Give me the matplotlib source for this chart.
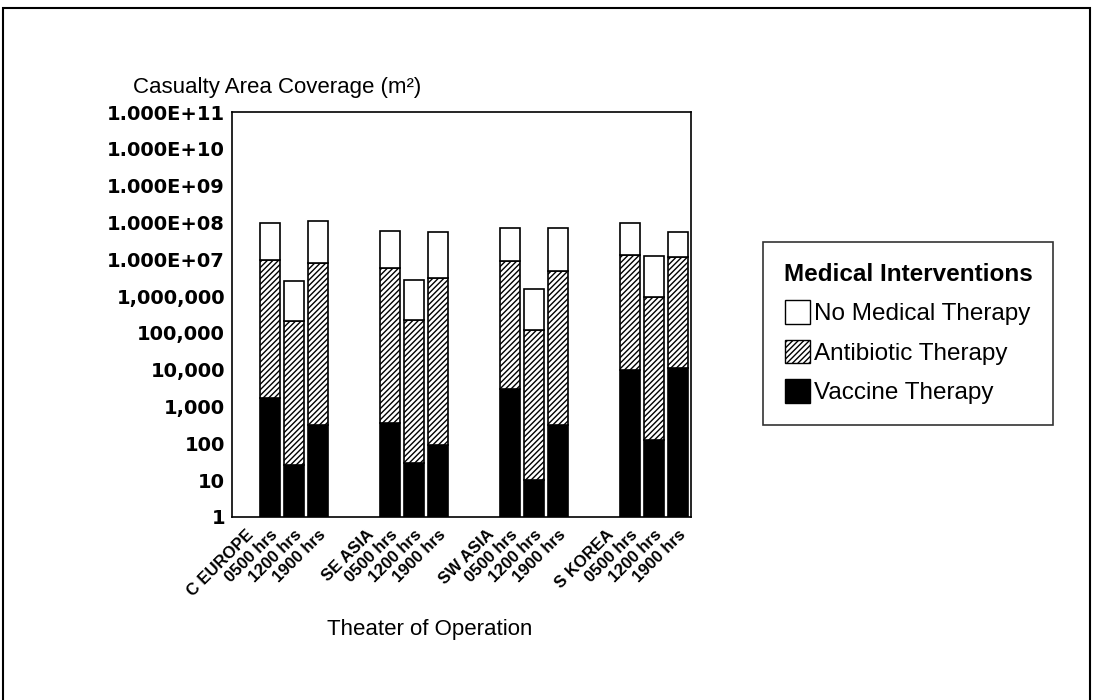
import matplotlib.pyplot as plt
import matplotlib.patches as mpatches
import numpy as np

plt.rcParams['font.family'] = ['Liberation Sans', 'DejaVu Sans']
plt.rcParams['hatch.linewidth'] = 1.0

# each theater: a label slot, then three times of day, then a gap
theaters = ['C EUROPE', 'SE ASIA', 'SW ASIA', 'S KOREA']
times = ['0500 hrs', '1200 hrs', '1900 hrs']

# area coverage (m^2) per theater, for 0500 / 1200 / 1900 hrs
no_therapy = [
    [9.5e7, 2.5e6, 1.1e8],
    [6.0e7, 2.8e6, 5.5e7],
    [7.0e7, 1.6e6, 7.0e7],
    [9.5e7, 1.2e7, 5.6e7],
]
antibiotic = [
    [9.6e6, 2.1e5, 7.8e6],
    [5.7e6, 2.2e5, 3.1e6],
    [9.2e6, 1.2e5, 4.9e6],
    [1.3e7, 9.7e5, 1.15e7],
]
vaccine = [
    [1700, 26, 316],
    [350, 29, 90],
    [2950, 10, 316],
    [9800, 124, 1.1e4],
]

fig = plt.figure(figsize=(10.96, 7), dpi=100)
ax = fig.add_axes([232 / 1096, 1 - 517 / 700, 459 / 1096, 405 / 700])

xs, tops, antis, vaccs = [], [], [], []
tick_pos, tick_lab = [], []
for g, name in enumerate(theaters):
    base = g * 5
    tick_pos.append(base)
    tick_lab.append(name)
    for i, t in enumerate(times):
        xs.append(base + 1 + i)
        tick_pos.append(base + 1 + i)
        tick_lab.append(t)
        tops.append(no_therapy[g][i])
        antis.append(antibiotic[g][i])
        vaccs.append(vaccine[g][i])

xs = np.array(xs)
tops = np.array(tops)
antis = np.array(antis)
vaccs = np.array(vaccs)

w = 0.8
ax.bar(xs, vaccs - 1, bottom=1, width=w, color='black', edgecolor='black', lw=1.2)
ax.bar(xs, antis - vaccs, bottom=vaccs, width=w, color='white', edgecolor='black',
       hatch='//////', lw=1.2)
ax.bar(xs, tops - antis, bottom=antis, width=w, color='white', edgecolor='black', lw=1.2)

ax.set_yscale('log')
ax.set_ylim(1, 1e11)
ax.set_xlim(-0.58, 18.54)

yt = [10.0 ** k for k in range(12)]
ylabels = ['1', '10', '100', '1,000', '10,000', '100,000', '1,000,000',
           '1.000E+07', '1.000E+08', '1.000E+09', '1.000E+10', '1.000E+11']
ax.set_yticks(yt)
ax.set_yticklabels(ylabels, fontsize=14, fontweight='bold', family='DejaVu Sans')
ax.yaxis.set_minor_locator(plt.NullLocator())
ax.tick_params(axis='y', length=0, pad=5)

ax.set_xticks(tick_pos)
ax.set_xticklabels(tick_lab, rotation=45, ha='right', va='top',
                   rotation_mode='anchor', fontsize=12, fontweight='bold')
ax.tick_params(axis='x', length=0, pad=7)

for s in ax.spines.values():
    s.set_linewidth(1.2)

fig.text(133 / 1096, 1 - 88 / 700, 'Casualty Area Coverage (m²)', fontsize=16,
         va='center', ha='left')
fig.text(430 / 1096, 1 - 630 / 700, 'Theater of Operation', fontsize=16,
         va='center', ha='center')

handles = [
    mpatches.Patch(facecolor='white', edgecolor='black', label='No Medical Therapy'),
    mpatches.Patch(facecolor='white', edgecolor='black', hatch='//////',
                   label='Antibiotic Therapy'),
    mpatches.Patch(facecolor='black', edgecolor='black', label='Vaccine Therapy'),
]
leg = fig.legend(handles=handles, loc='upper left',
                 bbox_to_anchor=(763 / 1096, 1 - 242 / 700),
                 title='Medical Interventions', fontsize=17.5,
                 title_fontproperties={'weight': 'bold', 'size': 17.5},
                 frameon=True, fancybox=False, edgecolor='black',
                 handlelength=1.0, handleheight=1.1, handletextpad=0.2,
                 labelspacing=0.6, borderpad=0.85, borderaxespad=0)
leg.get_frame().set_linewidth(1.2)

# page border
fig.patches.append(mpatches.Rectangle((3 / 1096, -0.01), 1087 / 1096, 1 - 8 / 700 + 0.01,
                                      transform=fig.transFigure, fill=False,
                                      edgecolor='black', lw=1.5))

fig.savefig('out.png', dpi=100)
